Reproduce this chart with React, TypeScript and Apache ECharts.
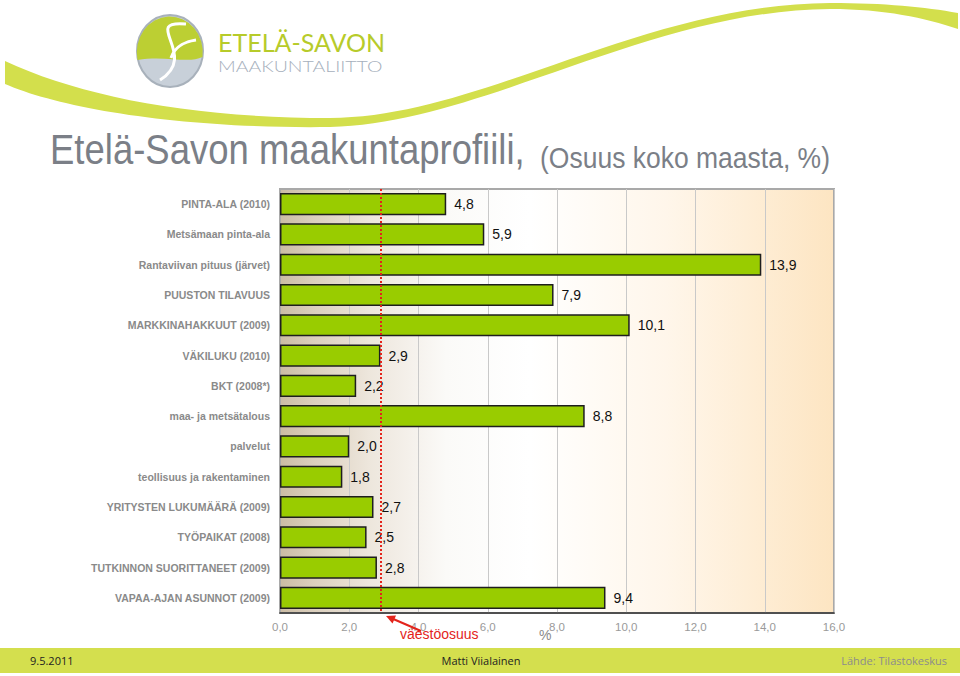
import React, { useEffect, useRef } from "react";
import * as echarts from "echarts";

const categories = [
  "PINTA-ALA (2010)",
  "Metsämaan pinta-ala",
  "Rantaviivan pituus (järvet)",
  "PUUSTON TILAVUUS",
  "MARKKINAHAKKUUT (2009)",
  "VÄKILUKU (2010)",
  "BKT (2008*)",
  "maa- ja metsätalous",
  "palvelut",
  "teollisuus ja rakentaminen",
  "YRITYSTEN LUKUMÄÄRÄ (2009)",
  "TYÖPAIKAT (2008)",
  "TUTKINNON SUORITTANEET (2009)",
  "VAPAA-AJAN ASUNNOT (2009)",
];
const shares = [4.8, 5.9, 13.9, 7.9, 10.1, 2.9, 2.2, 8.8, 2.0, 1.8, 2.7, 2.5, 2.8, 9.4];
const populationShare = 2.9;
const axisMin = 0;
const axisMax = 16;
const axisStep = 2;

const titleMain = "Etelä-Savon maakuntaprofiili,";
const titleSub = "(Osuus koko maasta, %)";
const footerDate = "9.5.2011";
const footerAuthor = "Matti Viialainen";
const footerSource = "Lähde: Tilastokeskus";

const fmt = (v: number) => v.toFixed(1).replace(".", ",");

let registered = false;
function registerShapes() {
  if (registered) return;
  registered = true;
  echarts.graphic.registerShape(
    "swoosh",
    echarts.graphic.extendPath(
      "M5,61 C80,96 190,118 330,118 C480,118 640,4 830,3 C885,3 925,7 958,13 L958,29 C925,18 885,9 830,9 C650,10 480,124 330,127 C180,129 60,108 5,84 Z",
      {}
    )
  );
  echarts.graphic.registerShape(
    "logoTop",
    echarts.graphic.extendPath(
      "M137.5,60 A33,36 0 1 1 202.5,57 C188,64 165,55 137.5,60 Z",
      {}
    )
  );
}

export default function App() {
  const ref = useRef<HTMLDivElement>(null);

  useEffect(() => {
    if (!ref.current) return;
    registerShapes();
    const chart = echarts.init(ref.current, undefined, { renderer: "svg" });

    const option: any = {
      animation: false,
      backgroundColor: "#ffffff",
      grid: {
        left: 280,
        right: 126,
        top: 189,
        bottom: 63,
        show: true,
        borderColor: "#a9a9a9",
        borderWidth: 2,
        backgroundColor: new echarts.graphic.LinearGradient(0, 0, 1, 0, [
          { offset: 0, color: "#cbbca4" },
          { offset: 0.06, color: "#dbcfbd" },
          { offset: 0.16, color: "#ede6dc" },
          { offset: 0.3, color: "#fbfaf8" },
          { offset: 0.45, color: "#ffffff" },
          { offset: 0.7, color: "#fff6ea" },
          { offset: 1, color: "#fde5c2" },
        ]),
      },
      xAxis: {
        type: "value",
        min: axisMin,
        max: axisMax,
        interval: axisStep,
        axisLine: { show: true, onZero: false, lineStyle: { color: "#333333", width: 1.5 } },
        axisTick: { show: false },
        splitLine: { show: true, lineStyle: { color: "#c9c9c9", width: 1 } },
        axisLabel: {
          color: "#9a9a9a",
          fontSize: 11.5,
          fontFamily: "Arial, Liberation Sans",
          margin: 8,
          formatter: (v: number) => fmt(v),
        },
      },
      yAxis: {
        type: "category",
        inverse: true,
        data: categories,
        axisLine: { show: true, lineStyle: { color: "#a9a9a9", width: 2 } },
        axisTick: { show: false },
        axisLabel: {
          color: "#8a8a8a",
          fontSize: 10.5,
          fontWeight: "bold",
          fontFamily: "Arial, Liberation Sans",
          margin: 10,
        },
      },
      series: [
        {
          type: "bar",
          data: shares,
          barWidth: "73%",
          itemStyle: { color: "#99cc00", borderColor: "#1e1e1e", borderWidth: 1.5 },
          label: {
            show: true,
            position: "right",
            distance: 8,
            color: "#111111",
            fontSize: 14,
            fontFamily: "Arial, Liberation Sans",
            formatter: (p: any) => fmt(p.value),
          },
          markLine: {
            silent: true,
            symbol: "none",
            label: { show: false },
            lineStyle: { color: "#e3241b", type: "dotted", width: 2 },
            data: [{ xAxis: populationShare }],
          },
          z: 3,
        },
      ],
      graphic: [
        { type: "swoosh", x: 0, y: 0, style: { fill: "#d3df4c" }, z: 1 },
        {
          type: "ellipse",
          shape: { cx: 170, cy: 51, rx: 33, ry: 36 },
          style: { fill: "#c8d0d9", stroke: "#a8b1bb", lineWidth: 2 },
          z: 2,
        },
        { type: "logoTop", x: 0, y: 0, style: { fill: "#bccf33" }, z: 3 },
        {
          type: "bezierCurve",
          shape: { x1: 186, y1: 24, x2: 160, y2: 80, cpx1: 140, cpy1: 20, cpx2: 200, cpy2: 55 },
          style: { stroke: "#ffffff", lineWidth: 3, fill: null },
          z: 4,
        },
        {
          type: "bezierCurve",
          shape: { x1: 171, y1: 58, x2: 196, y2: 40, cpx1: 175, cpy1: 45, cpx2: 188, cpy2: 41 },
          style: { stroke: "#ffffff", lineWidth: 3, fill: null },
          z: 4,
        },
        {
          type: "text",
          x: 218,
          y: 42,
          style: { text: "ETELÄ-SAVON", fill: "#b7cb2a", fontSize: 25, fontFamily: "Lato", fontWeight: 400, verticalAlign: "middle" },
          z: 3,
        },
        {
          type: "text",
          x: 218,
          y: 65.5,
          scaleX: 1.22,
          style: { text: "MAAKUNTALIITTO", fill: "#a6afbc", fontSize: 16, fontFamily: "Lato", fontWeight: 300, verticalAlign: "middle" },
          z: 3,
        },
        {
          type: "text",
          x: 50,
          y: 128,
          scaleY: 1.15,
          style: { text: titleMain, fill: "#7b7f87", fontSize: 36.5, fontFamily: "Arial, Liberation Sans" },
          z: 3,
        },
        {
          type: "text",
          x: 540,
          y: 143,
          scaleY: 1.1,
          style: { text: titleSub, fill: "#7b7f87", fontSize: 26.5, fontFamily: "Arial, Liberation Sans" },
          z: 3,
        },
        {
          type: "line",
          shape: { x1: 421, y1: 631, x2: 391, y2: 618 },
          style: { stroke: "#e3241b", lineWidth: 2 },
          z: 5,
        },
        {
          type: "polygon",
          shape: { points: [[386, 616], [396, 615.5], [392.5, 623.5]] },
          style: { fill: "#e3241b" },
          z: 5,
        },
        {
          type: "text",
          x: 400,
          y: 627,
          style: { text: "väestöosuus", fill: "#e3241b", fontSize: 14, fontFamily: "Arial, Liberation Sans" },
          z: 5,
        },
        {
          type: "text",
          x: 539,
          y: 628,
          style: { text: "%", fill: "#8a8a8a", fontSize: 14, fontFamily: "Arial, Liberation Sans" },
          z: 5,
        },
        {
          type: "rect",
          shape: { x: 0, y: 648, width: 960, height: 25 },
          style: { fill: "#d4df4e" },
          z: 1,
        },
        {
          type: "text",
          x: 30,
          y: 660,
          style: { text: footerDate, fill: "#222222", fontSize: 11, fontFamily: "Open Sans", verticalAlign: "middle" },
          z: 3,
        },
        {
          type: "text",
          x: 481,
          y: 660,
          style: { text: footerAuthor, fill: "#222222", fontSize: 11, fontFamily: "Open Sans", align: "center", verticalAlign: "middle" },
          z: 3,
        },
        {
          type: "text",
          x: 947,
          y: 660,
          style: { text: footerSource, fill: "#8c8c8c", fontSize: 11, fontFamily: "Open Sans", align: "right", verticalAlign: "middle" },
          z: 3,
        },
      ],
    };

    chart.setOption(option);
    return () => chart.dispose();
  }, []);

  return (
    <div
      ref={ref}
      style={{ position: "absolute", left: 0, top: 0, width: 960, height: 676 }}
    />
  );
}
